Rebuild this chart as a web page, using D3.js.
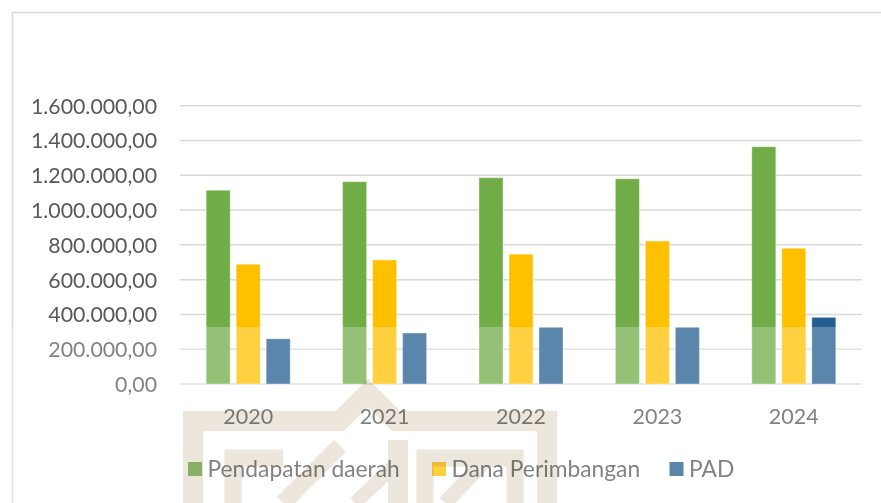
<!DOCTYPE html>
<html><head><meta charset="utf-8">
<script src="https://cdn.jsdelivr.net/npm/d3@7/dist/d3.min.js"></script>
<style>
html,body{margin:0;padding:0;background:#fff;}
svg{display:block;font-family:Lato,"Open Sans",sans-serif;}
</style></head>
<body>
<svg id="chart" width="881" height="503"></svg>
<script>
const years = ["2020","2021","2022","2023","2024"];
const seriesNames = ["Pendapatan daerah","Dana Perimbangan","PAD"];
const pendapatanDaerah = [1114000, 1163000, 1186000, 1180000, 1364000];
const danaPerimbangan = [688000, 713000, 746000, 822000, 780000];
const pad = [260000, 293000, 326000, 326000, 383000];
const yTicks = [0,200000,400000,600000,800000,1000000,1200000,1400000,1600000];
const colors = ["#70AD47","#FFC000","#255E91"];

const seriesValues = [pendapatanDaerah, danaPerimbangan, pad];
const data = years.map((y,i)=>({year:y, values: seriesNames.map((s,j)=>({series:s, idx:j, value:seriesValues[j][i]}))}));

const svg = d3.select("#chart");
const W=881,H=503;
const plot = {left:180,right:862,top:105.7,bottom:384};

// chart frame
svg.append("rect").attr("x",12.5).attr("y",12.5).attr("width",W).attr("height",H)
  .attr("fill","#fff").attr("stroke","#D9D9D9").attr("stroke-width",1.5);

const loc = d3.formatLocale({decimal:",",thousands:".",grouping:[3],currency:["",""]});
const fmt = loc.format(",.2f");

const y = d3.scaleLinear().domain([0,1600000]).range([plot.bottom,plot.top]);
const x0 = d3.scaleBand().domain(years).range([plot.left,plot.right]).paddingInner(0).paddingOuter(0);
const x1 = d3.scaleBand().domain(d3.range(3)).range([0,x0.bandwidth()]).paddingInner(0.2).paddingOuter(0.873);

// gridlines
svg.append("g").selectAll("line").data(yTicks).join("line")
  .attr("x1",plot.left).attr("x2",plot.right)
  .attr("y1",d=>y(d)).attr("y2",d=>y(d))
  .attr("stroke","#D9D9D9").attr("stroke-width",1.5);

// y tick labels
svg.append("g").selectAll("text").data(yTicks).join("text")
  .attr("x",157).attr("y",d=>y(d)+8)
  .attr("text-anchor","end").attr("font-size",21.3).attr("fill","#595959")
  .text(d=>fmt(d));

// bars
const g = svg.append("g").selectAll("g").data(data).join("g")
  .attr("transform",d=>`translate(${x0(d.year)},0)`);
g.selectAll("rect").data(d=>d.values).join("rect")
  .attr("x",d=>x1(d.idx)).attr("width",x1.bandwidth())
  .attr("y",d=>y(d.value)).attr("height",d=>y(0)-y(d.value))
  .attr("fill",d=>colors[d.idx])
  .attr("stroke","#fff").attr("stroke-opacity",0.35).attr("stroke-width",1);

// x labels
svg.append("g").selectAll("text").data(years).join("text")
  .attr("x",d=>x0(d)+x0.bandwidth()/2).attr("y",423.5)
  .attr("text-anchor","middle").attr("font-size",21.5).attr("fill","#595959")
  .text(d=>d);

// legend
const legendX = [188, 432, 669.5];
const lg = svg.append("g").selectAll("g").data(seriesNames).join("g")
  .attr("transform",(d,i)=>`translate(${legendX[i]},462)`);
lg.append("rect").attr("width",14).attr("height",14).attr("fill",(d,i)=>colors[i]);
lg.append("text").attr("x",19.5).attr("y",14.5).attr("font-size",22.8).attr("fill","#595959").text(d=>d);

// watermark: white wash over the lower part
svg.append("rect").attr("x",0).attr("y",327).attr("width",W).attr("height",H-327)
  .attr("fill","#fff").attr("opacity",0.25);

// watermark logo (approximate)
const wm = svg.append("g").attr("fill","none").attr("stroke","#ECE6DC").attr("stroke-linejoin","miter")
  .style("mix-blend-mode","multiply");
wm.append("path").attr("d","M193,503 V421 H340 L368,393 L396,421 H547 V503").attr("stroke-width",20);
wm.append("path").attr("d","M233,503 V458 H283").attr("stroke-width",17);
wm.append("path").attr("d","M283,503 L340,446").attr("stroke-width",17);
wm.append("path").attr("d","M398,440 V503").attr("stroke-width",20);
wm.append("path").attr("d","M355,503 L398,462").attr("stroke-width",14);
wm.append("path").attr("d","M425,503 V458 H515 V503").attr("stroke-width",17);
wm.append("path").attr("d","M445,503 L488,458").attr("stroke-width",15);
</script>
</body></html>
